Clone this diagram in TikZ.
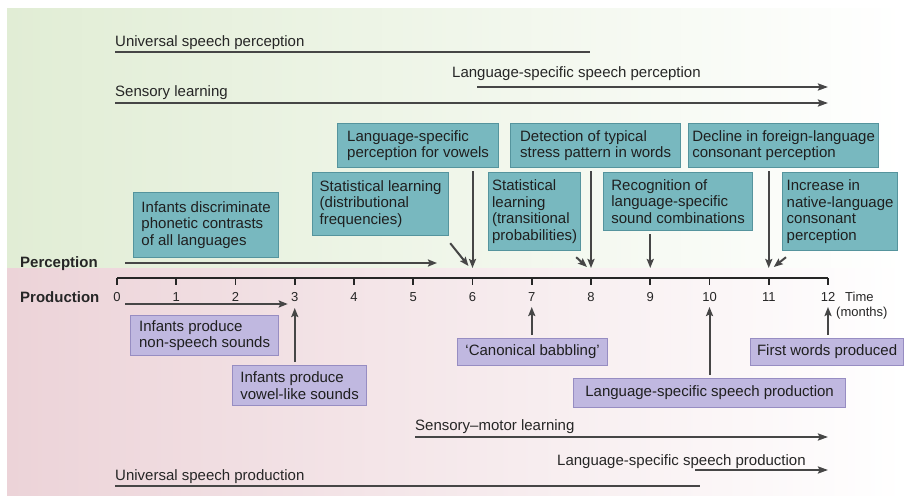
\documentclass[tikz,border=0pt]{standalone}
\usepackage{fontspec}
\setmainfont{Liberation Sans}
\usetikzlibrary{arrows.meta, positioning, calc}

\definecolor{percbg}{HTML}{E1EDD5}
\definecolor{prodbg}{HTML}{ECD3D8}
\definecolor{percfill}{HTML}{78B8BF}
\definecolor{percedge}{HTML}{55949D}
\definecolor{prodfill}{HTML}{C0B8E0}
\definecolor{prodedge}{HTML}{978DC2}
\definecolor{phaseline}{HTML}{464646}

\tikzset{
  percbox/.style={draw=percedge, fill=percfill, line width=1.2pt, align=left,
    inner xsep=3pt, inner ysep=2pt, anchor=north west, text=black!88,
    font=\fontsize{15}{16.8}\selectfont},
  prodbox/.style={percbox, draw=prodedge, fill=prodfill},
  phase/.style={line width=2.4pt, draw=phaseline},
  phasearrow/.style={phase, -{Stealth[length=10pt,width=7pt,inset=1.5pt]}},
  phasetxt/.style={anchor=base west, inner sep=0pt, text=black!85,
    font=\fontsize{15}{17}\selectfont},
  pointer/.style={line width=2pt, draw=phaseline,
    -{Stealth[length=9pt,width=7pt,inset=1.5pt]}},
  frombox/.style={pointer, shorten <=3pt},
  axistxt/.style={inner sep=0pt, text=black!85, font=\fontsize{13}{14}\selectfont},
}

\begin{document}
\begin{tikzpicture}[x=1pt, y=-1pt]
  \useasboundingbox (0,0) rectangle (905,497);
  \shade[left color=percbg, middle color=percbg!85!white, right color=white] (7,9) rectangle (905,268);
  \shade[left color=prodbg, middle color=prodbg!65!white, right color=white] (7,268) rectangle (905,495);

  % time axis
  \foreach \i in {0,...,12}
    \coordinate (m\i) at ({117+59.25*\i},278);
  \draw[line width=2pt, black!85] (m0) -- (m12);
  \foreach \i in {0,...,12} {
    \draw[line width=1.6pt, black!85] (m\i) -- ++(0,7);
    \node[axistxt, anchor=base] (n\i) at ($(m\i)+(0,23)$) {\i};
  }
  \node[axistxt, anchor=base west] (timelbl) at (845,301) {Time};
  \node[axistxt, anchor=base west] (months) at (836,316) {(months)};

  \node[phasetxt, font=\fontsize{15}{17}\selectfont\bfseries] (perc) at (20,267) {Perception};
  \node[phasetxt, font=\fontsize{15}{17}\selectfont\bfseries] (prod) at (20,302) {Production};

  % phases, perception
  \coordinate (usp0) at (115,52);  \coordinate (usp1) at (590,52);
  \coordinate (lssp0) at (477,87); \coordinate (lssp1) at (828,87);
  \coordinate (sl0) at (115,103);  \coordinate (sl1) at (828,103);
  \node[phasetxt] (usptxt) at ($(usp0)+(0,-5)$) {Universal speech perception};
  \node[phasetxt] (lssptxt) at (452,78) {Language-specific speech perception};
  \node[phasetxt] (sltxt) at ($(sl0)+(0,-6)$) {Sensory learning};
  \draw[phase] (usp0) -- (usp1);
  \draw[phasearrow] (lssp0) -- (lssp1);
  \draw[phasearrow] (sl0) -- (sl1);

  % phases, production
  \coordinate (sml0) at (415,437);   \coordinate (sml1) at (828,437);
  \coordinate (lspp0) at (695,470);  \coordinate (lspp1) at (828,470);
  \coordinate (uspp0) at (115,486);  \coordinate (uspp1) at (700,486);
  \node[phasetxt] (smltxt) at ($(sml0)+(0,-7)$) {Sensory--motor learning};
  \node[phasetxt] (lspptxt) at (557,465) {Language-specific speech production};
  \node[phasetxt] (uspptxt) at ($(uspp0)+(0,-6)$) {Universal speech production};
  \draw[phasearrow] (sml0) -- (sml1);
  \draw[phasearrow] (lspp0) -- (lspp1);
  \draw[phase] (uspp0) -- (uspp1);

  % perception milestones
  \node[percbox, minimum width=145pt, minimum height=65pt] (discrim) at (133,192)
    {Infants discriminate\\phonetic contrasts\\of all languages};
  \node[percbox, minimum width=136pt, minimum height=63pt] (statdist) at (312,172)
    {Statistical learning\\(distributional\\frequencies)};
  \node[percbox, minimum width=161pt, minimum height=44pt] (vowels) at (337,123)
    {Language-specific\\perception for vowels};
  \node[percbox, minimum width=92pt, minimum height=78pt] (stattrans) at (488,172)
    {Statistical\\learning\\(transitional\\probabilities)};
  \node[percbox, minimum width=170pt, minimum height=44pt] (stress) at (510,123)
    {Detection of typical\\stress pattern in words};
  \node[percbox, minimum width=149pt, minimum height=58pt] (soundcomb) at (603,172)
    {Recognition of\\language-specific\\sound combinations};
  \node[percbox, minimum width=190pt, minimum height=44pt] (decline) at (688,123)
    {Decline in foreign-language\\consonant perception};
  \node[percbox, minimum width=115pt, minimum height=78pt] (increase) at (782,172)
    {Increase in\\native-language\\consonant\\perception};

  \coordinate (pa0) at (125,263); \coordinate (pa1) at (437,263);
  \draw[pointer] (pa0) -- (pa1);
  \draw[pointer] ($(statdist.south east)+(1,7)$) -- ($(m6)+(-4,-12)$);
  \draw[frombox] (vowels.south -| m6) -- ($(m6)+(0,-10)$);
  \draw[pointer] ($(stattrans.south east)+(-5,6)$) -- ($(m8)+(-4,-11)$);
  \draw[frombox] (stress.south -| m8) -- ($(m8)+(0,-10)$);
  \draw[frombox] (soundcomb.south -| m9) -- ($(m9)+(0,-10)$);
  \draw[frombox] (decline.south -| m11) -- ($(m11)+(0,-10)$);
  \draw[pointer] ($(increase.south west)+(4,6)$) -- ($(m11)+(5,-11)$);

  % production milestones
  \node[prodbox, minimum width=148pt, minimum height=40pt] (nonspeech) at (130,315)
    {Infants produce\\non-speech sounds};
  \node[prodbox, minimum width=134pt, minimum height=40pt] (vowellike) at (232,365)
    {Infants produce\\vowel-like sounds};
  \node[prodbox, minimum width=150pt, minimum height=27pt] (babbling) at (457,338)
    {`Canonical babbling'};
  \node[prodbox, minimum width=272pt, minimum height=29pt] (lsprod) at (573,378)
    {Language-specific speech production};
  \node[prodbox, minimum width=153pt, minimum height=27pt] (firstwords) at (750,338)
    {First words produced};

  \draw[pointer] ($(m0)+(8,26)$) -- ($(m3)+(-7,26)$);
  \draw[frombox] (vowellike.north -| m3) -- ($(m3)+(0,30)$);
  \draw[frombox] (babbling.north -| m7) -- ($(m7)+(0,29)$);
  \draw[frombox] (lsprod.north -| m10) -- ($(m10)+(0,29)$);
  \draw[frombox] (firstwords.north -| m12) -- ($(m12)+(0,29)$);
\end{tikzpicture}
\end{document}
